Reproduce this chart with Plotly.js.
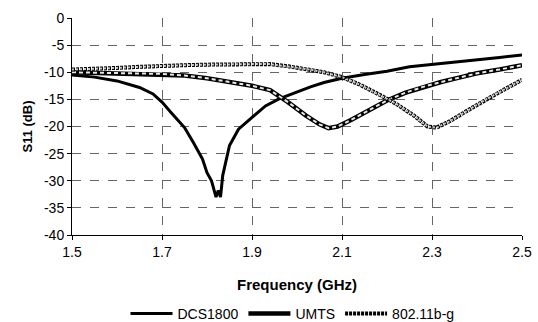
<!DOCTYPE html>
<html>
<head>
<meta charset="utf-8">
<script src="https://cdn.plot.ly/plotly-3.0.1.min.js"></script>
<style>html,body{margin:0;padding:0;background:#fff;}#chart{width:538px;height:322px;}</style>
</head>
<body>
<div id="chart"></div>
<script>
// DCS1800
const dcsFreq = [1.50,1.55,1.60,1.65,1.68,1.70,1.72,1.75,1.77,1.79,1.80,1.81,1.815,1.82,1.825,1.83,1.835,1.85,1.87,1.90,1.93,1.96,2.00,2.03,2.06,2.10,2.15,2.20,2.25,2.30,2.35,2.40,2.45,2.50];
const dcsS11  = [-10.5,-10.9,-11.6,-12.8,-14.0,-15.5,-17.4,-20.2,-23.0,-26.0,-28.5,-30.0,-31.5,-33.0,-31.8,-33.0,-29.0,-23.5,-20.5,-18.3,-16.2,-14.9,-13.6,-12.7,-11.9,-11.1,-10.4,-9.8,-9.0,-8.6,-8.2,-7.8,-7.3,-6.8];
// UMTS
const umtsFreq = [1.50,1.55,1.60,1.65,1.70,1.75,1.80,1.85,1.90,1.94,1.98,2.02,2.05,2.07,2.09,2.12,2.16,2.20,2.24,2.28,2.32,2.36,2.40,2.45,2.50];
const umtsS11  = [-10.0,-10.1,-10.1,-10.2,-10.3,-10.6,-11.1,-11.8,-12.5,-13.3,-15.5,-18.0,-19.6,-20.3,-20.0,-18.8,-17.0,-15.2,-13.8,-12.7,-11.8,-11.0,-10.2,-9.5,-8.7];
// 802.11b-g
const wlanFreq = [1.50,1.55,1.60,1.65,1.70,1.75,1.80,1.85,1.90,1.94,1.98,2.02,2.06,2.10,2.14,2.18,2.22,2.26,2.29,2.31,2.34,2.38,2.42,2.46,2.50];
const wlanS11  = [-9.5,-9.4,-9.2,-9.0,-8.8,-8.7,-8.6,-8.5,-8.5,-8.5,-8.9,-9.4,-10.0,-10.9,-12.3,-14.0,-15.8,-18.0,-20.0,-20.2,-19.0,-17.0,-15.0,-13.2,-11.4];

const xTicks = [1.5,1.7,1.9,2.1,2.3,2.5];
const yTicks = [0,-5,-10,-15,-20,-25,-30,-35,-40];

const traces = [
  {x: dcsFreq, y: dcsS11, name: 'DCS1800', mode: 'lines', line: {color: '#000', width: 3}},
  {x: umtsFreq, y: umtsS11, name: 'UMTS', legendgroup: 'umts', mode: 'lines', line: {color: '#000', width: 4.5}},
  {x: umtsFreq, y: umtsS11, name: 'UMTS', legendgroup: 'umts', showlegend: false, mode: 'lines', line: {color: '#e8e8e8', width: 2, dash: '4px,3px'}, hoverinfo: 'skip'},
  {x: wlanFreq, y: wlanS11, name: '802.11b-g', legendgroup: 'wlan', mode: 'lines', line: {color: '#000', width: 4, dash: '3px,1px'}},
  {x: wlanFreq, y: wlanS11, name: '802.11b-g', legendgroup: 'wlan', showlegend: false, mode: 'lines', line: {color: '#c8c8c8', width: 2, dash: '2px,2px'}, hoverinfo: 'skip'}
];

const layout = {
  width: 538, height: 322,
  margin: {l: 72, r: 16, t: 18, b: 87},
  paper_bgcolor: '#fff', plot_bgcolor: '#fff',
  font: {family: 'Liberation Sans, Arial, sans-serif', size: 14, color: '#000'},
  showlegend: true,
  legend: {orientation: 'h', xref: 'paper', x: 0.49, xanchor: 'center', yref: 'container', y: (322 - 314) / 322, yanchor: 'middle', font: {size: 14}, itemwidth: 42, tracegroupgap: 0},
  xaxis: {
    range: [1.5, 2.5], tickvals: xTicks, ticktext: xTicks.map(v => v.toFixed(1)),
    automargin: false,
    showline: true, linecolor: '#000', linewidth: 1,
    ticks: 'outside', ticklen: 4, tickcolor: '#000',
    showgrid: true, gridcolor: '#666', griddash: 'dash', gridwidth: 1,
    zeroline: false,
    title: {text: '<b>Frequency (GHz)</b>', font: {size: 15}, standoff: 20}
  },
  yaxis: {
    range: [-40, 0], tickvals: yTicks, ticktext: yTicks.map(v => String(v)),
    automargin: false,
    showline: true, linecolor: '#000', linewidth: 1,
    ticks: 'outside', ticklen: 4, tickcolor: '#000',
    showgrid: true, gridcolor: '#666', griddash: 'dash', gridwidth: 1,
    zeroline: false,
    title: {text: '<b>S11 (dB)</b>', font: {size: 13}, standoff: 8}
  }
};

Plotly.newPlot('chart', traces, layout, {staticPlot: true, displayModeBar: false});
</script>
</body>
</html>
